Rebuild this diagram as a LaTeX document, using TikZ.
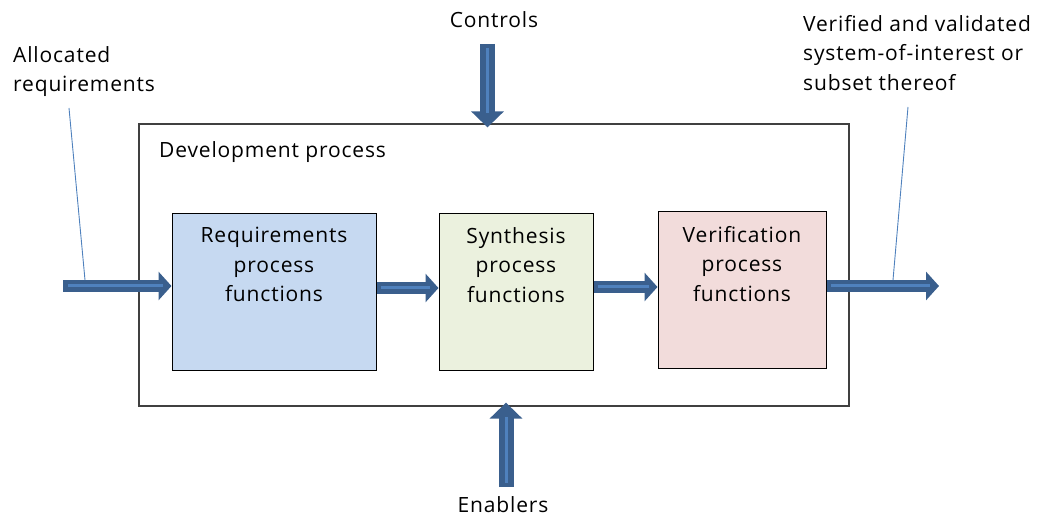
\documentclass[tikz,border=0pt]{standalone}
\usepackage{fontspec}
\setmainfont[LetterSpace=4.0]{Open Sans}
\usetikzlibrary{arrows.meta}
\definecolor{arrowdark}{RGB}{58,95,141}
\definecolor{arrowlight}{RGB}{79,129,189}
\definecolor{reqfill}{RGB}{198,217,241}
\definecolor{synfill}{RGB}{235,241,222}
\definecolor{verfill}{RGB}{242,220,219}
\definecolor{outerline}{RGB}{64,64,64}
\tikzset{
  txt/.style={inner sep=0pt, font=\fontsize{21}{29.5}\selectfont, align=center},
  txtl/.style={inner sep=0pt, font=\fontsize{21}{29.5}\selectfont, align=left},
  box/.style={draw=black, line width=1pt, inner sep=0pt},
  outerbox/.style={draw=outerline, line width=1.3pt, inner sep=0pt, minimum width=710pt, minimum height=282pt},
  hbig/.style={draw=arrowdark, line width=12pt, -{Triangle[length=13pt,width=28pt]}},
  vbig/.style={draw=arrowdark, line width=15pt, -{Triangle[length=16pt,width=32pt]}},
  stripe/.style={draw=arrowlight, line width=3pt},
  leader/.style={draw=arrowlight, line width=0.9pt}
}
\begin{document}
\begin{tikzpicture}[x=1pt,y=-1pt]
\useasboundingbox (0,0) rectangle (1054,518);
% outer box
\node[outerbox] (dev) at (494,265) {};
\node[txtl, anchor=north west] (devlbl) at (159,141) {Development process};
% process boxes
\node[box, fill=reqfill, minimum width=204pt, minimum height=156pt] (req) at (274,292) {};
\node[box, fill=synfill, minimum width=154pt, minimum height=156pt] (syn) at (516,292) {};
\node[box, fill=verfill, minimum width=168pt, minimum height=156pt] (ver) at (742,290) {};
\node[txt, anchor=north] (reqt) at (274,227) {Requirements\\process\\functions};
\node[txt, anchor=north] (synt) at (516,227) {Synthesis\\process\\functions};
\node[txt, anchor=north] (vert) at (742,226) {Verification\\process\\functions};
% outside labels
\node[txt, anchor=north] (ctl) at (494,11) {Controls};
\node[txt, anchor=north] (enl) at (503,496) {Enablers};
\node[txtl, anchor=north west] (alloc) at (13,46) {Allocated\\requirements};
\node[txtl, anchor=north west] (outl) at (803,15) {Verified and validated\\system-of-interest or\\subset thereof};
% coordinates
\coordinate (inS) at (63,286);
\coordinate (outE) at (939,286);
\coordinate (rs) at (0,288);
\coordinate (sv) at (0,287);
\coordinate (ctS) at (487.5,44);
\coordinate (enS) at (506,487);
% horizontal arrows
\draw[hbig] (inS) -- (inS -| req.west);
\draw[stripe] ([xshift=5pt]inS) -- ([xshift=-9pt]inS -| req.west);
\draw[hbig] (req.east |- rs) -- (syn.west |- rs);
\draw[stripe] ([xshift=4pt]req.east |- rs) -- ([xshift=-9pt]syn.west |- rs);
\draw[hbig] (syn.east |- sv) -- (ver.west |- sv);
\draw[stripe] ([xshift=4pt]syn.east |- sv) -- ([xshift=-9pt]ver.west |- sv);
\draw[hbig] (ver.east |- outE) -- (outE);
\draw[stripe] ([xshift=4pt]ver.east |- outE) -- ([xshift=-9pt]outE);
% vertical arrows
\draw[vbig] (ctS) -- ([yshift=-4pt]ctS |- dev.north);
\draw[stripe] ([yshift=-4pt]ctS) -- ([yshift=10pt]ctS |- dev.north);
\draw[vbig] (enS) -- ([yshift=4pt]enS |- dev.south);
\draw[stripe] ([yshift=4pt]enS) -- ([yshift=-10pt]enS |- dev.south);
% leader lines
\coordinate (la) at (69,108);
\coordinate (lb) at (85,280);
\coordinate (ra) at (908,107);
\coordinate (rb) at (893,280);
\draw[leader] (la) -- (lb);
\draw[leader] (ra) -- (rb);
\end{tikzpicture}
\end{document}
